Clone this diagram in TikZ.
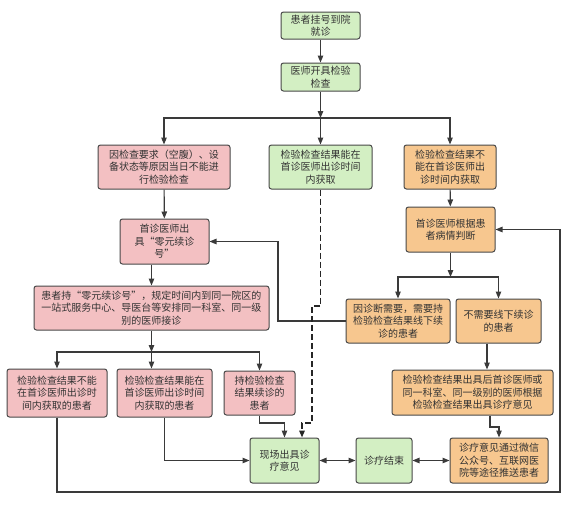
\documentclass[tikz,border=0pt]{standalone}
\usepackage{fontspec}
\newfontfamily\cjk{Noto Sans CJK SC}
\usetikzlibrary{arrows.meta}
\definecolor{gfill}{HTML}{D3EFC3}
\definecolor{pfill}{HTML}{F3C0C2}
\definecolor{ofill}{HTML}{F7C78F}
\definecolor{bord}{HTML}{484848}
\definecolor{txt}{HTML}{333333}
\definecolor{lin}{HTML}{3A3A3A}
\tikzset{
  box/.style={draw=bord, line width=1pt, rounded corners=2.5pt, align=center, inner sep=0pt,
    text=txt, font=\cjk\fontsize{10}{12.5}\selectfont},
  gbox/.style={box, fill=gfill},
  pbox/.style={box, fill=pfill},
  obox/.style={box, fill=ofill},
  arr/.style={draw=lin, line width=1.1pt, -{Triangle[length=7pt,width=5.5pt]}},
  barr/.style={draw=lin, line width=1.1pt, {Triangle[length=7pt,width=5.5pt]}-{Triangle[length=7pt,width=5.5pt]}},
  pln/.style={draw=lin, line width=1.1pt},
  dsh/.style={dash pattern=on 6pt off 3pt, line width=1.5pt, draw=black!85}
}
\begin{document}
\begin{tikzpicture}[x=1pt,y=-1pt]
\useasboundingbox (0,0) rectangle (566,512);
% nodes
\node[gbox, minimum width=79pt, minimum height=27pt] (n1) at (320.5,25.5) {患者挂号到院\\就诊};
\node[gbox, minimum width=79pt, minimum height=28pt] (n2) at (320.5,77) {医师开具检验\\检查};
\node[pbox, minimum width=132pt, minimum height=44pt] (p1) at (164,167) {因检查要求（空腹）、设\\备状态等原因当日不能进\\行检验检查};
\node[gbox, minimum width=103pt, minimum height=44pt] (g1) at (320.5,167) {检验检查结果能在\\首诊医师出诊时间\\内获取};
\node[obox, minimum width=92pt, minimum height=44pt] (o1) at (450,167) {检验检查结果不\\能在首诊医师出\\诊时间内获取};
\node[pbox, minimum width=89pt, minimum height=45pt] (p2) at (164.5,241.5) {首诊医师出\\具“零元续诊\\号”};
\node[pbox, minimum width=235pt, minimum height=44pt] (pz) at (151.5,308) {患者持“零元续诊号”，规定时间内到同一院区的\\一站式服务中心、导医台等安排同一科室、同一级\\别的医师接诊};
\node[obox, minimum width=89pt, minimum height=45pt] (o2) at (450.5,229.5) {首诊医师根据患\\者病情判断};
\node[obox, minimum width=104pt, minimum height=44pt] (o3) at (398,321) {因诊断需要，需要持\\检验检查结果线下续\\诊的患者};
\node[obox, minimum width=85pt, minimum height=44pt] (o4) at (498.5,321) {不需要线下续诊\\的患者};
\node[pbox, minimum width=100pt, minimum height=48pt] (A) at (57,393) {检验检查结果不能\\在首诊医师出诊时\\间内获取的患者};
\node[pbox, minimum width=95pt, minimum height=48pt] (B) at (164.5,393) {检验检查结果能在\\首诊医师出诊时间\\内获取的患者};
\node[pbox, minimum width=71pt, minimum height=44pt] (C) at (259.5,393) {持检验检查\\结果续诊的\\患者};
\node[obox, minimum width=161pt, minimum height=45pt] (o5) at (472.5,392.5) {检验检查结果出具后首诊医师或\\同一科室、同一级别的医师根据\\检验检查结果出具诊疗意见};
\node[gbox, minimum width=69pt, minimum height=45pt] (xc) at (284.5,460.5) {现场出具诊\\疗意见};
\node[gbox, minimum width=56pt, minimum height=45pt] (end) at (384,460.5) {诊疗结束};
\node[obox, minimum width=98pt, minimum height=45pt] (push) at (499,460.5) {诊疗意见通过微信\\公众号、互联网医\\院等途径推送患者};
% helper coordinates
\coordinate (j1) at (320.5,118);
\coordinate (j2) at (151.5,352);
\coordinate (j3) at (450.5,277);
\coordinate (b1) at (490,427);
\coordinate (b2) at (278,322);
\coordinate (d1) at (312,306);
\coordinate (d2) at (302,423);
\coordinate (lp) at (560,492);
\coordinate (k4) at (487,0);
% connectors
\draw[arr] (n1) -- (n2);
\draw[arr] (n2) -- (j1);
\draw[pln] (p1.north |- j1) -- (o1.north |- j1);
\draw[arr] (j1) -| (p1.north);
\draw[arr] (j1) -- (g1.north);
\draw[arr] (j1) -| (o1.north);
\draw[arr] (p1) -- (p2);
\draw[arr] (p2.south -| pz.north) -- (pz.north);
\draw[arr] (pz.south) -- (j2);
\draw[pln] (A.north |- j2) -- (C.north |- j2);
\draw[arr] (j2) -| (A.north);
\draw[arr] (j2) -- (j2 |- B.north);
\draw[arr] (j2) -| (C.north);
\draw[arr] (o1) -- (o2);
\draw[arr] (o2.south) -- (j3);
\draw[pln] (o3.north |- j3) -- (o4.north |- j3);
\draw[arr] (j3) -| (o3.north);
\draw[arr] (j3) -| (o4.north);
\draw[arr] (k4 |- o4.south) -- (k4 |- o5.north);
\draw[arr] (b1 |- o5.south) -- (b1) -| (push.north);
\draw[arr] (o3.west) -| (b2 |- p2.east) -- (p2.east);
\draw[arr, dsh] (g1.south) |- (d1) |- (d2) -- (d2 |- xc.north);
\draw[arr] (C.south) |- (xc.north |- d2) -- (xc.north);
\draw[arr] (B.south) |- (xc.west);
\draw[arr] (A.south) |- (lp) |- (o2.east);
\draw[barr] (xc.east) -- (end.west);
\draw[barr] (end.east) -- (push.west);
\end{tikzpicture}
\end{document}
